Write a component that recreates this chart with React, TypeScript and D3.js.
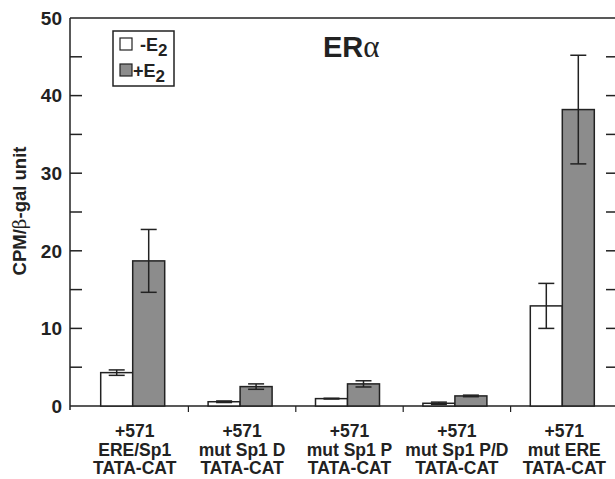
import React from "react";
import * as d3 from "d3";

const categories = ["ERE/Sp1", "mut Sp1 D", "mut Sp1 P", "mut Sp1 P/D", "mut ERE"];
const minusE2 = [4.3, 0.55, 0.95, 0.35, 12.9];
const minusE2Err = [0.35, 0.1, 0.05, 0.15, 2.9];
const plusE2 = [18.7, 2.5, 2.85, 1.3, 38.2];
const plusE2Err = [4.05, 0.35, 0.4, 0.1, 7.0];
const yTicks = [0, 10, 20, 30, 40, 50];
const yMinorTicks = [5, 15, 25, 35, 45];

const W = 615;
const H = 479;
const axisLeft = 70;
const plotRight = 618;
const top = 18;
const bottom = 406;
const barW = 32;
const capW = 16;
const FONT = "'Liberation Sans', Arial, Helvetica, sans-serif";

export default function App() {
  const y = d3.scaleLinear().domain([0, 50]).range([bottom, top]);
  const x = d3.scaleBand<string>().domain(categories).range([81, plotRight]).paddingInner(0).paddingOuter(0);
  const bounds = categories.slice(1).map((c) => x(c) as number);

  return (
    <svg width={W} height={H} style={{ position: "absolute", left: 0, top: 0, background: "#fff" }}>
      {/* frame */}
      <line x1={axisLeft} x2={W + 5} y1={top} y2={top} stroke="#222" strokeWidth={1.5} />
      <line x1={axisLeft} x2={axisLeft} y1={top} y2={bottom + 4} stroke="#222" strokeWidth={1.5} />
      <line x1={axisLeft} x2={W + 5} y1={bottom} y2={bottom} stroke="#222" strokeWidth={1.5} />
      {/* y ticks left and right */}
      {[...yTicks, ...yMinorTicks].map((t) => (
        <g key={"t" + t}>
          {t !== 0 && t !== 50 && (
            <line x1={axisLeft} x2={axisLeft + 12} y1={y(t)} y2={y(t)} stroke="#222" strokeWidth={1.5} />
          )}
          {t !== 0 && t !== 50 && (
            <line x1={606} x2={W + 5} y1={y(t)} y2={y(t)} stroke="#222" strokeWidth={1.5} />
          )}
        </g>
      ))}
      {yTicks.map((t) => (
        <text
          key={"l" + t}
          x={62}
          y={y(t)}
          dy="0.36em"
          textAnchor="end"
          fontFamily={FONT}
          fontWeight="bold"
          fontSize={19}
          fill="#222"
        >
          {t}
        </text>
      ))}
      {/* x ticks */}
      {bounds.map((b, i) => (
        <line key={"xb" + i} x1={b} x2={b} y1={bottom} y2={bottom + 6} stroke="#222" strokeWidth={1.2} />
      ))}
      {/* y label */}
      <text
        transform="translate(26,211) rotate(-90)"
        textAnchor="middle"
        fontFamily={FONT}
        fontWeight="bold"
        fontSize={18.5}
        fill="#222"
      >
        CPM/
        <tspan fontWeight="normal" fontFamily="'DejaVu Serif', serif">β</tspan>
        -gal unit
      </text>
      {/* bars */}
      {categories.map((c, i) => {
        const cx = (x(c) as number) + x.bandwidth() / 2 - 2;
        const xw = cx - barW;
        const xg = cx;
        const ew = xw + barW / 2;
        const eg = xg + barW / 2;
        return (
          <g key={c}>
            <rect x={xw} y={y(minusE2[i])} width={barW} height={bottom - y(minusE2[i])} fill="#fff" stroke="#222" strokeWidth={1.5} />
            <rect x={xg} y={y(plusE2[i])} width={barW} height={bottom - y(plusE2[i])} fill="#8c8c8c" stroke="#222" strokeWidth={1.5} />
            {[
              [ew, minusE2[i], minusE2Err[i]],
              [eg, plusE2[i], plusE2Err[i]],
            ].map(([ex, v, e], k) => (
              <g key={k} stroke="#222" strokeWidth={1.5}>
                <line x1={ex} x2={ex} y1={y(v + e)} y2={y(v - e)} />
                <line x1={ex - capW / 2} x2={ex + capW / 2} y1={y(v + e)} y2={y(v + e)} />
                <line x1={ex - capW / 2} x2={ex + capW / 2} y1={y(v - e)} y2={y(v - e)} />
              </g>
            ))}
            {["+571", c, "TATA-CAT"].map((s, j) => (
              <text
                key={j}
                x={(x(c) as number) + x.bandwidth() / 2}
                y={437 + j * 18.5}
                textAnchor="middle"
                fontFamily={FONT}
                fontWeight="bold"
                fontSize={17.5}
                fill="#222"
              >
                {s}
              </text>
            ))}
          </g>
        );
      })}
      {/* legend */}
      <rect x={113} y={31} width={61} height={55} fill="#fff" stroke="#222" strokeWidth={1.5} />
      <rect x={120} y={38} width={12} height={12} fill="#fff" stroke="#222" strokeWidth={1.2} />
      <rect x={120} y={64} width={12} height={12} fill="#8c8c8c" stroke="#222" strokeWidth={1.2} />
      <text x={140} y={51} fontFamily={FONT} fontWeight="bold" fontSize={18} fill="#222">
        -E<tspan dy={5} fontSize={17}>2</tspan>
      </text>
      <text x={133} y={77} fontFamily={FONT} fontWeight="bold" fontSize={18} fill="#222">
        +E<tspan dy={5} fontSize={17}>2</tspan>
      </text>
      {/* title */}
      <text x={323} y={57} fontFamily={FONT} fontWeight="bold" fontSize={29} fill="#222">
        ER<tspan fontWeight="normal" fontFamily="'Liberation Serif', 'DejaVu Serif', serif" fontSize={31}>α</tspan>
      </text>
    </svg>
  );
}
